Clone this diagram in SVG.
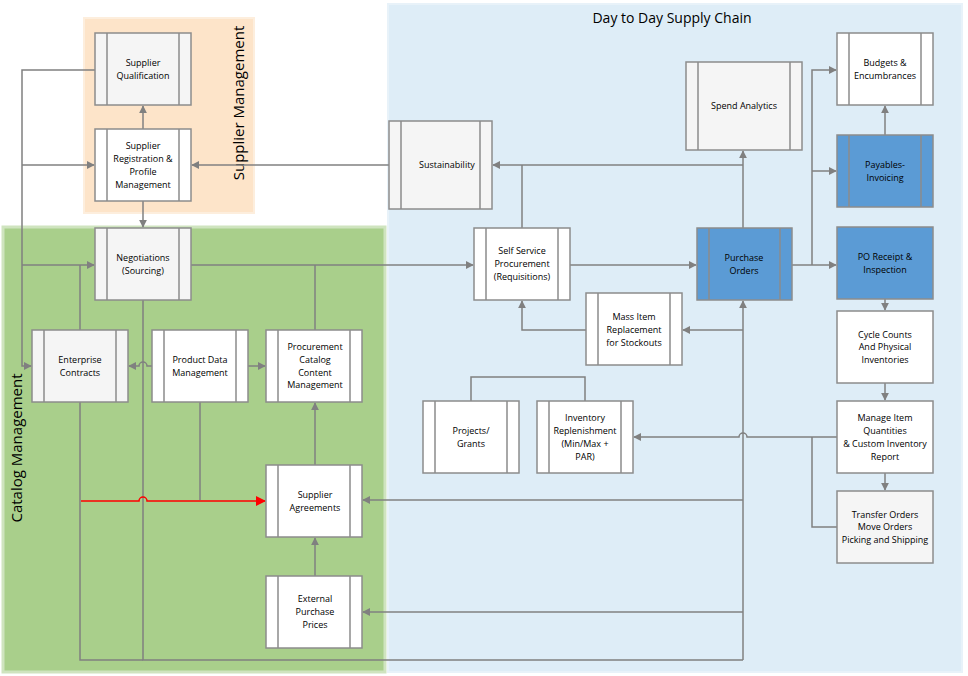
<svg xmlns="http://www.w3.org/2000/svg" width="968" height="676" viewBox="0 0 968 676">
<defs>
<marker id="a" viewBox="0 0 10 10" refX="9" refY="5" markerWidth="8" markerHeight="8" orient="auto" markerUnits="userSpaceOnUse"><path d="M0,0 L10,5 L0,10 z" fill="#808080"/></marker>
<marker id="r" viewBox="0 0 10 10" refX="9" refY="5" markerWidth="10" markerHeight="10" orient="auto" markerUnits="userSpaceOnUse"><path d="M0,0 L10,5 L0,10 z" fill="#ff0000"/></marker>
<style>
.b{stroke:#8c8c8c;stroke-width:1.5;fill:#fff}
.g{fill:#f5f5f5}
.bl{fill:#5b9bd5}
.i{stroke:#8c8c8c;stroke-width:1.5;fill:none}
text{font-family:"Open Sans","DejaVu Sans",sans-serif;font-size:9px;fill:#000;text-anchor:middle}
.c path{stroke:#808080;stroke-width:1.5;fill:none}
.big{font-size:15px}
</style>
</defs>
<rect x="0" y="0" width="968" height="676" fill="#fff"/>
<rect x="388" y="4" width="574" height="668" fill="#deedf7" stroke="#e8f2f9" stroke-width="2"/>
<rect x="84" y="18" width="170" height="195" fill="#fde4c9" stroke="#fdeedd" stroke-width="2"/>
<rect x="3" y="227" width="382" height="445" fill="#a9cf8b" stroke="#cfe4bf" stroke-width="3"/>
<text class="big" x="672" y="23" style="font-size:14px">Day to Day Supply Chain</text>
<text class="big" transform="translate(244,103) rotate(-90)">Supplier Management</text>
<text class="big" transform="translate(22,448) rotate(-90)">Catalog Management</text>

<g class="c">
<path d="M95,70 H22 V366 H31" marker-end="url(#a)"/>
<path d="M22,165 H94" marker-end="url(#a)"/>
<path d="M22,265 H94" marker-end="url(#a)"/>
<path d="M80,330 V265"/>
<path d="M389,165 H192" marker-end="url(#a)"/>
<path d="M143,129 V106" marker-end="url(#a)"/>
<path d="M143,201 V227" marker-end="url(#a)"/>
<path d="M191,265 H473" marker-end="url(#a)"/>
<path d="M315,265 V330"/>
<path d="M143,300 V660 H743"/>
<path d="M80,402 V660 H143"/>
<path d="M152,366 H147 a4,4 0 0 0 -8,0 H129" marker-end="url(#a)"/>
<path d="M248,366 H265" marker-end="url(#a)"/>
<path d="M200,402 V500"/>
<path d="M315,465 V403" marker-end="url(#a)"/>
<path d="M315,576 V538" marker-end="url(#a)"/>
<path d="M743,660 V301" marker-end="url(#a)"/>
<path d="M743,500 H363" marker-end="url(#a)"/>
<path d="M743,612 H363" marker-end="url(#a)"/>
<path d="M743,330 H683" marker-end="url(#a)"/>
<path d="M586,330 H522 V301" marker-end="url(#a)"/>
<path d="M471,401 V377 H585 V401"/>
<path d="M570,265 H696" marker-end="url(#a)"/>
<path d="M522,228 V165"/>
<path d="M743,228 V151" marker-end="url(#a)"/>
<path d="M743,165 H493" marker-end="url(#a)"/>
<path d="M792,265 H836" marker-end="url(#a)"/>
<path d="M812,265 V70 H836" marker-end="url(#a)"/>
<path d="M812,171 H836" marker-end="url(#a)"/>
<path d="M885,135 V106" marker-end="url(#a)"/>
<path d="M885,299 V310" marker-end="url(#a)"/>
<path d="M885,383 V400" marker-end="url(#a)"/>
<path d="M885,473 V490" marker-end="url(#a)"/>
<path d="M837,437 H747 a4,4 0 0 0 -8,0 H634" marker-end="url(#a)"/>
<path d="M812,437 V527 H837"/>
<path d="M81,501 H139 a4,4 0 0 1 8,0 H265" style="stroke:#ff0000" marker-end="url(#r)"/>
</g>

<g id="supplier-qualification"><rect class="b g" x="95" y="33" width="96" height="72"/><path class="i" d="M107,33 V105 M179,33 V105"/><text x="143" y="66">Supplier</text><text x="143" y="79">Qualification</text></g>
<g id="supplier-registration"><rect class="b" x="95" y="129" width="96" height="72"/><path class="i" d="M107,129 V201 M179,129 V201"/><text x="143" y="149">Supplier</text><text x="143" y="162">Registration &amp;</text><text x="143" y="175">Profile</text><text x="143" y="188">Management</text></g>
<g id="negotiations"><rect class="b g" x="95" y="228" width="96" height="72"/><path class="i" d="M107,228 V300 M179,228 V300"/><text x="143" y="261">Negotiations</text><text x="143" y="274">(Sourcing)</text></g>
<g id="enterprise-contracts"><rect class="b g" x="32" y="330" width="96" height="72"/><path class="i" d="M44,330 V402 M116,330 V402"/><text x="80" y="363">Enterprise</text><text x="80" y="376">Contracts</text></g>
<g id="product-data"><rect class="b" x="152" y="330" width="96" height="72"/><path class="i" d="M164,330 V402 M236,330 V402"/><text x="200" y="363">Product Data</text><text x="200" y="376">Management</text></g>
<g id="procurement-catalog"><rect class="b" x="266" y="330" width="96" height="72"/><path class="i" d="M278,330 V402 M350,330 V402"/><text x="315" y="350">Procurement</text><text x="315" y="363">Catalog</text><text x="315" y="376">Content</text><text x="315" y="388">Management</text></g>
<g id="supplier-agreements"><rect class="b" x="266" y="465" width="96" height="72"/><path class="i" d="M278,465 V537 M350,465 V537"/><text x="315" y="498">Supplier</text><text x="315" y="511">Agreements</text></g>
<g id="external-prices"><rect class="b" x="266" y="576" width="96" height="72"/><path class="i" d="M278,576 V648 M350,576 V648"/><text x="315" y="602">External</text><text x="315" y="615">Purchase</text><text x="315" y="628">Prices</text></g>
<g id="sustainability"><rect class="b g" x="389" y="121" width="103" height="88"/><path class="i" d="M401,121 V209 M480,121 V209"/><text x="447" y="168">Sustainability</text></g>
<g id="spend-analytics"><rect class="b g" x="686" y="62" width="116" height="88"/><path class="i" d="M698,62 V150 M790,62 V150"/><text x="744" y="109">Spend Analytics</text></g>
<g id="budgets"><rect class="b" x="837" y="33" width="96" height="72"/><path class="i" d="M849,33 V105 M921,33 V105"/><text x="885" y="66">Budgets &amp;</text><text x="885" y="79">Encumbrances</text></g>
<g id="payables"><rect class="b bl" x="837" y="135" width="96" height="72"/><path class="i" d="M849,135 V207 M921,135 V207"/><text x="885" y="168">Payables-</text><text x="885" y="181">Invoicing</text></g>
<g id="self-service"><rect class="b" x="474" y="228" width="96" height="72"/><path class="i" d="M486,228 V300 M558,228 V300"/><text x="522" y="254">Self Service</text><text x="522" y="267">Procurement</text><text x="522" y="280">(Requisitions)</text></g>
<g id="purchase-orders"><rect class="b bl" x="697" y="228" width="95" height="72"/><path class="i" d="M709,228 V300 M780,228 V300"/><text x="744" y="261">Purchase</text><text x="744" y="274">Orders</text></g>
<g id="po-receipt"><rect class="b bl" x="837" y="227" width="96" height="72"/><text x="885" y="260">PO Receipt &amp;</text><text x="885" y="273">Inspection</text></g>
<g id="mass-item"><rect class="b" x="586" y="293" width="96" height="72"/><path class="i" d="M598,293 V365 M670,293 V365"/><text x="634" y="320">Mass Item</text><text x="634" y="333">Replacement</text><text x="634" y="346">for Stockouts</text></g>
<g id="cycle-counts"><rect class="b" x="837" y="311" width="96" height="72"/><text x="885" y="338">Cycle Counts</text><text x="885" y="350">And Physical</text><text x="885" y="363">Inventories</text></g>
<g id="manage-item"><rect class="b" x="837" y="401" width="96" height="72"/><text x="885" y="421">Manage Item</text><text x="885" y="434">Quantities</text><text x="885" y="447">&amp; Custom Inventory</text><text x="885" y="460">Report</text></g>
<g id="transfer-orders"><rect class="b g" x="837" y="491" width="96" height="72"/><text x="885" y="518">Transfer Orders</text><text x="885" y="530">Move Orders</text><text x="885" y="543">Picking and Shipping</text></g>
<g id="projects"><rect class="b" x="423" y="401" width="96" height="72"/><path class="i" d="M435,401 V473 M507,401 V473"/><text x="471" y="434">Projects/</text><text x="471" y="447">Grants</text></g>
<g id="inventory-replenishment"><rect class="b" x="537" y="401" width="96" height="72"/><path class="i" d="M549,401 V473 M621,401 V473"/><text x="585" y="421">Inventory</text><text x="585" y="434">Replenishment</text><text x="585" y="447">(Min/Max +</text><text x="585" y="460">PAR)</text></g>
</svg>
